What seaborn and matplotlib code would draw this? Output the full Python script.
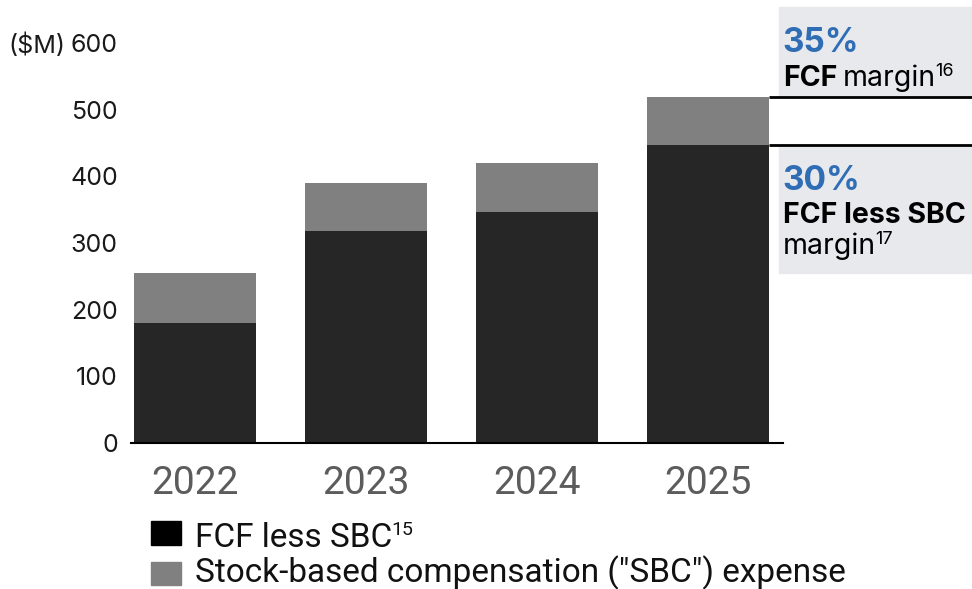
import matplotlib
matplotlib.use("Agg")
import matplotlib.pyplot as plt
from matplotlib.patches import Rectangle
import pandas as pd
import seaborn as sns

# Free cash flow, split into FCF less SBC and the SBC expense ($M)
years = ["2022", "2023", "2024", "2025"]
fcf_less_sbc = [180, 318, 346, 447]
sbc_expense = [75, 72, 74, 72]
y_ticks = [0, 100, 200, 300, 400, 500, 600]
legend_labels = ["FCF less SBC", 'Stock-based compensation ("SBC") expense']
legend_notes = ["15", ""]
fcf_margin = "35%"
fcf_less_sbc_margin = "30%"

DARK = "#262626"
GRAY = "#808080"
PANEL = "#e8e9ed"
BLUE = "#2f6db5"
TEXT = "#1a1a1a"

sns.set_theme(style="white")
plt.rcParams["font.family"] = ["Inter", "DejaVu Sans"]

W, H = 972, 589
fig = plt.figure(figsize=(W / 100, H / 100), dpi=100)


def fx(x):
    return x / W


def fy(y):
    return 1 - y / H


ax = fig.add_axes([fx(131), fy(443), (783 - 131) / W, 400 / H])
ax.patch.set_visible(False)

df = pd.DataFrame({"year": years, "fcf_less_sbc": fcf_less_sbc, "sbc": sbc_expense})
df["total"] = df["fcf_less_sbc"] + df["sbc"]

bar_w = 0.713
sns.barplot(data=df, x="year", y="total", color=GRAY, saturation=1, width=bar_w,
            errorbar=None, linewidth=0, ax=ax)
sns.barplot(data=df, x="year", y="fcf_less_sbc", color=DARK, saturation=1, width=bar_w,
            errorbar=None, linewidth=0, ax=ax)

ax.set_xlim(-0.374, 3.44)
ax.set_ylim(0, 600)
ax.set_yticks(y_ticks)
ax.set_xlabel("")
ax.set_ylabel("")
for side in ("left", "top", "right"):
    ax.spines[side].set_visible(False)
ax.spines["bottom"].set_color("black")
ax.spines["bottom"].set_linewidth(1.5)

ax.tick_params(axis="y", length=0, pad=9.5, labelsize=18, labelcolor=TEXT)
ax.tick_params(axis="x", length=0, pad=16, labelsize=28, labelcolor="#5c5c5c")
for lbl in ax.get_xticklabels():
    lbl.set_fontfamily(["Roboto", "DejaVu Sans"])

ax.annotate("($M)", xy=(0, 600), xycoords=("axes fraction", "data"),
            xytext=(-66, 0), textcoords="offset pixels",
            ha="right", va="center_baseline", fontsize=18, color=TEXT)

# Guide lines from the top of the 2025 bar segments to the margin panel
x0 = len(years) - 1 + bar_w / 2
x_end = ax.transData.inverted().transform((W, 0))[0]
for val in (df["total"].iloc[-1], df["fcf_less_sbc"].iloc[-1]):
    ax.plot([x0, x_end], [val, val], color="black", lw=2, clip_on=False,
            solid_capstyle="butt", zorder=5)

# Margin panel
fig.add_artist(Rectangle((fx(779), fy(97)), (W - 779) / W, 90 / H,
                         transform=fig.transFigure, color=PANEL, zorder=-1))
fig.add_artist(Rectangle((fx(779), fy(273)), (W - 779) / W, 128 / H,
                         transform=fig.transFigure, color=PANEL, zorder=-1))


def with_note(base, note, size=13):
    return ax.annotate(
        note, xy=(1, 1), xycoords=base, xytext=(-0.5, 1), textcoords="offset points",
        ha="left", va="top", fontsize=size, color=base.get_color(),
        fontfamily=base.get_fontfamily())


fig.text(fx(782), fy(52), fcf_margin, color=BLUE, fontsize=24, fontweight="bold",
         va="baseline", ha="left")
t_fcf = fig.text(fx(783), fy(86), "FCF", color="black", fontsize=20.5,
                 fontweight="bold", va="baseline", ha="left")
t_m1 = ax.annotate("margin", xy=(1, 0), xycoords=t_fcf, xytext=(4, 0),
                   textcoords="offset points", ha="left", va="bottom",
                   fontsize=20.5, color="black")
with_note(t_m1, "16")

fig.text(fx(782), fy(190), fcf_less_sbc_margin, color=BLUE, fontsize=24,
         fontweight="bold", va="baseline", ha="left")
fig.text(fx(783), fy(223), "FCF less SBC", color="black", fontsize=20.5,
         fontweight="bold", va="baseline", ha="left")
t_m2 = fig.text(fx(783), fy(254), "margin", color="black", fontsize=20.5,
                va="baseline", ha="left")
with_note(t_m2, "17")

# Legend
legend_colors = ["black", GRAY]
legend_boxes = [(521, 545), (562, 585)]
legend_baselines = [547, 582]
for label, note, col, (top, bot), base in zip(legend_labels, legend_notes,
                                              legend_colors, legend_boxes,
                                              legend_baselines):
    fig.add_artist(Rectangle((fx(151), fy(bot)), 30 / W, (bot - top) / H,
                             transform=fig.transFigure, color=col))
    t = fig.text(fx(195), fy(base), label, fontsize=24, color="#111111",
                 va="baseline", ha="left", fontfamily=["Roboto", "DejaVu Sans"])
    if note:
        with_note(t, note, size=14)

fig.savefig("out.png", dpi=100)
